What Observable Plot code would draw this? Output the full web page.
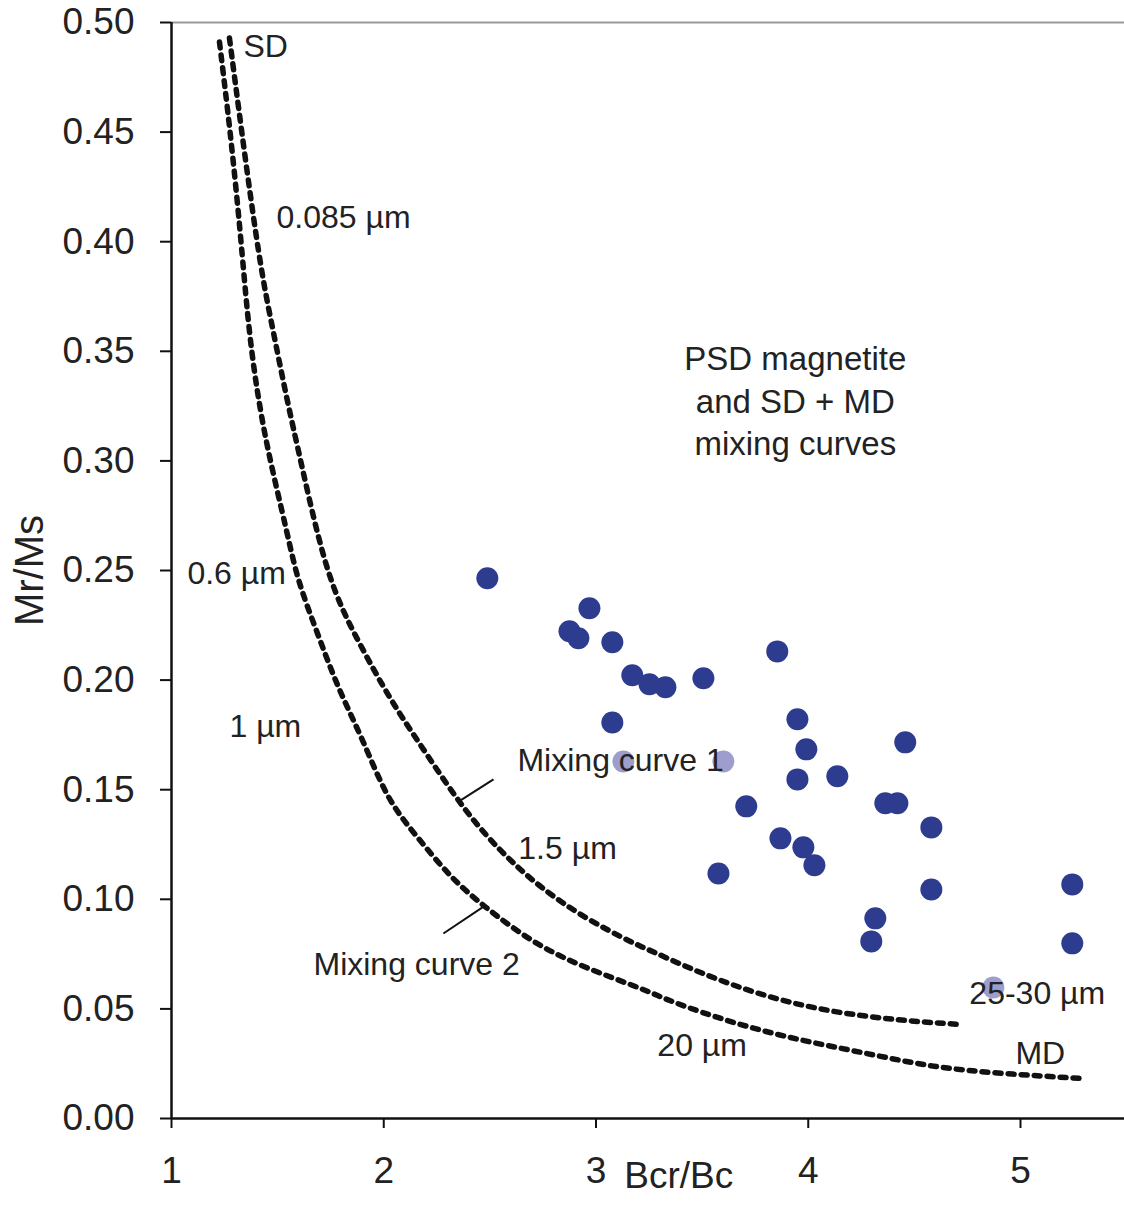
<!DOCTYPE html>
<html>
<head>
<meta charset="utf-8">
<script src="https://cdn.jsdelivr.net/npm/d3@7"></script>
<script src="https://cdn.jsdelivr.net/npm/@observablehq/plot@0.6"></script>
<style>
  html, body { margin: 0; padding: 0; background: #fff; }
  #chart svg { display: block; }
</style>
</head>
<body>
<div id="chart"></div>
<script>
// ---- Data ----
const xTicks = [1, 2, 3, 4, 5];
const yTicks = [0, 0.05, 0.10, 0.15, 0.20, 0.25, 0.30, 0.35, 0.40, 0.45, 0.50];

// Samples (Bcr/Bc, Mr/Ms)
const sampleBcrBc = [2.488, 2.969, 2.875, 2.917, 3.077, 3.171, 3.252, 3.327, 3.506, 3.854,
  3.077, 3.949, 3.991, 3.949, 4.137, 4.457, 3.708, 4.363, 4.420, 4.580,
  3.869, 3.977, 4.029, 3.577, 4.580, 5.244, 4.316, 4.297, 5.244];
const sampleMrMs = [0.2465, 0.2328, 0.2223, 0.2191, 0.2173, 0.2022, 0.1981, 0.1967, 0.2008, 0.2131,
  0.1807, 0.1821, 0.1684, 0.1547, 0.1561, 0.1716, 0.1424, 0.1438, 0.1438, 0.1328,
  0.1278, 0.1237, 0.1155, 0.1118, 0.1045, 0.1068, 0.0913, 0.0808, 0.0799];
// Samples partly hidden behind labels
const hiddenBcrBc = [3.129, 3.600, 4.872];
const hiddenMrMs = [0.1629, 0.1629, 0.0598];

// SD + MD mixing curve 1
const curve1X = [1.273, 1.410, 1.476, 1.537, 1.608, 1.735, 1.876, 2.032, 2.159, 2.347, 2.488,
  2.611, 2.738, 2.941, 3.176, 3.256, 3.492, 3.807, 4.118, 4.434, 4.700];
const curve1Y = [0.4929, 0.3916, 0.3610, 0.3309, 0.3003, 0.2455, 0.2182, 0.1908, 0.1725, 0.1451, 0.1283,
  0.1164, 0.1054, 0.0917, 0.0799, 0.0767, 0.0662, 0.0552, 0.0484, 0.0447, 0.0430];
// SD + MD mixing curve 2
const curve2X = [1.226, 1.278, 1.325, 1.358, 1.396, 1.452, 1.546, 1.593, 1.688, 1.782, 1.904,
  2.017, 2.159, 2.314, 2.465, 2.705, 2.941, 3.242, 3.336, 3.647, 3.963, 4.278, 4.589, 4.905, 5.282];
const curve2Y = [0.4911, 0.4496, 0.4039, 0.3656, 0.3355, 0.3049, 0.2670, 0.2455, 0.2214, 0.1967, 0.1725,
  0.1451, 0.1283, 0.1100, 0.0972, 0.0799, 0.0689, 0.0584, 0.0539, 0.0434, 0.0356, 0.0297, 0.0233, 0.0205, 0.0183];

// Annotations
const noteText = ["SD", "0.085 µm", "0.6 µm", "1 µm", "Mixing curve 1", "1.5 µm", "Mixing curve 2", "20 µm", "25-30 µm", "MD"];
const noteX = [1.339, 1.495, 1.075, 1.273, 2.630, 2.634, 1.669, 3.289, 4.759, 4.976];
const noteY = [0.489, 0.4107, 0.2487, 0.1785, 0.1634, 0.1232, 0.0703, 0.0333, 0.0571, 0.0297];
const regionText = "PSD magnetite\nand SD + MD\nmixing curves";
const regionX = 3.939, regionY = 0.3282;

// Leader lines from labels to curves
const leaderX1 = [2.347, 2.465];
const leaderY1 = [0.1442, 0.0963];
const leaderX2 = [2.517, 2.281];
const leaderY2 = [0.1547, 0.0844];

// ---- Build tables ----
const samples = sampleBcrBc.map((x, i) => ({x, y: sampleMrMs[i]}));
const hidden = hiddenBcrBc.map((x, i) => ({x, y: hiddenMrMs[i]}));
const curves = [
  ...curve1X.map((x, i) => ({x, y: curve1Y[i], c: "Mixing curve 1"})),
  ...curve2X.map((x, i) => ({x, y: curve2Y[i], c: "Mixing curve 2"}))
];
const notes = noteText.map((t, i) => ({t, x: noteX[i], y: noteY[i]}));
const leaders = leaderX1.map((x1, i) => ({x1, y1: leaderY1[i], x2: leaderX2[i], y2: leaderY2[i]}));

const FONT = "'Liberation Sans', Arial, Helvetica, sans-serif";
const TXT = "#222";

const chart = Plot.plot({
  width: 1124,
  height: 1206,
  marginLeft: 171,
  marginRight: 0,
  marginTop: 22,
  marginBottom: 88,
  style: {fontFamily: FONT, background: "#fff", color: TXT},
  x: {domain: [1, 5.49], label: null},
  y: {domain: [0, 0.5], label: null},
  marks: [
    Plot.ruleY([0.5], {stroke: "#9a9a9a", strokeWidth: 2}),
    Plot.axisX({ticks: xTicks, tickFormat: d => String(d), tickSize: 10, tickPadding: 28,
      fontSize: 37, stroke: "#111", strokeWidth: 2, fill: TXT, label: null}),
    Plot.axisY({ticks: yTicks, tickFormat: d3.format(".2f"), tickSize: 11, tickPadding: 26,
      fontSize: 37, stroke: "#111", strokeWidth: 2, fill: TXT, label: null}),
    Plot.ruleX([1], {stroke: "#111", strokeWidth: 2.5}),
    Plot.ruleY([0], {stroke: "#111", strokeWidth: 2.5}),
    Plot.line(curves, {x: "x", y: "y", z: "c", curve: "basis", stroke: "#111",
      strokeWidth: 5.5, strokeDasharray: "6,7"}),
    Plot.link(leaders, {x1: "x1", y1: "y1", x2: "x2", y2: "y2", stroke: "#111", strokeWidth: 2}),
    Plot.dot(samples, {x: "x", y: "y", r: 11, fill: "#2e3c8f", stroke: "none"}),
    Plot.dot(hidden, {x: "x", y: "y", r: 11, fill: "#9d9ecd", stroke: "none"}),
    Plot.text(notes, {x: "x", y: "y", text: "t", textAnchor: "start", fontSize: 32, fill: TXT}),
    Plot.text([regionText], {x: regionX, y: regionY, fontSize: 33, fill: TXT, lineHeight: 1.28}),
    Plot.text(["Bcr/Bc"], {x: 3.39, frameAnchor: "bottom", dy: 69, fontSize: 37, fill: TXT}),
    Plot.text(["Mr/Ms"], {y: 0.25, frameAnchor: "left", dx: -141, rotate: -90, textAnchor: "middle",
      fontSize: 40, fill: TXT})
  ]
});
document.getElementById("chart").appendChild(chart);
</script>
</body>
</html>
